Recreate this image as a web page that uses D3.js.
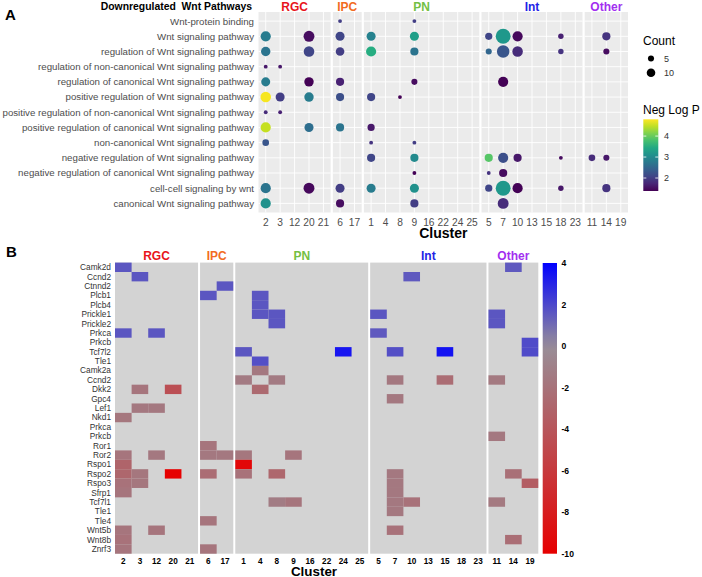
<!DOCTYPE html>
<html lang="en">
<head>
<meta charset="UTF-8">
<title>Downregulated Wnt pathways</title>
<script src="https://cdn.jsdelivr.net/npm/d3@7"></script>
<style>
  body { margin: 0; background: #fff; }
  text { font-family: "Liberation Sans", Arial, Helvetica, sans-serif; }
</style>
</head>
<body>
<svg id="chart" width="702" height="577"></svg>
<script>
// facet groups, shared by both panels
const groups = ["RGC", "IPC", "PN", "Int", "Other"];
const groupClusters = [
  ["2", "3", "12", "20", "21"],
  ["6", "17"],
  ["1", "4", "8", "9", "16", "22", "24", "25"],
  ["5", "7", "10", "13", "15", "18", "23"],
  ["11", "14", "19"]
];
const groupColors = ["#e8141b", "#f26c22", "#74c043", "#2323e6", "#a22ff0"];

// panel A - GO terms, top to bottom
const pathways = [
  "Wnt-protein binding",
  "Wnt signaling pathway",
  "regulation of Wnt signaling pathway",
  "regulation of non-canonical Wnt signaling pathway",
  "regulation of canonical Wnt signaling pathway",
  "positive regulation of Wnt signaling pathway",
  "positive regulation of non-canonical Wnt signaling pathway",
  "positive regulation of canonical Wnt signaling pathway",
  "non-canonical Wnt signaling pathway",
  "negative regulation of Wnt signaling pathway",
  "negative regulation of canonical Wnt signaling pathway",
  "cell-cell signaling by wnt",
  "canonical Wnt signaling pathway"
];
// [pathway row, cluster, count, neg log p]
const dots = [
  [0, "6", 2, 2.0], [0, "9", 2, 2.0],
  [1, "2", 14, 2.8], [1, "20", 16, 1.5], [1, "6", 11, 2.1], [1, "1", 11, 2.9], [1, "9", 11, 3.3],
  [1, "5", 7, 2.1], [1, "7", 30, 3.2], [1, "10", 14, 1.45], [1, "18", 4, 1.7], [1, "14", 9, 1.9],
  [2, "2", 12, 2.7], [2, "20", 15, 2.1], [2, "6", 10, 2.0], [2, "1", 14, 3.5], [2, "9", 9, 2.7],
  [2, "5", 5, 2.5], [2, "7", 21, 2.3], [2, "10", 15, 1.8], [2, "18", 4, 1.9], [2, "14", 5, 1.5],
  [3, "2", 2, 1.6], [3, "3", 2, 1.6],
  [4, "2", 11, 2.8], [4, "20", 12, 1.4], [4, "6", 9, 1.7], [4, "9", 5, 1.5], [4, "7", 14, 1.4],
  [5, "2", 15, 4.75], [5, "3", 11, 2.0], [5, "20", 12, 2.8], [5, "6", 9, 2.2], [5, "1", 9, 2.1], [5, "8", 2, 1.4],
  [6, "2", 2, 1.8], [6, "3", 2, 1.7],
  [7, "2", 14, 4.5], [7, "20", 11, 2.6], [7, "6", 9, 2.7], [7, "1", 7, 1.6],
  [8, "2", 6, 2.3], [8, "1", 2, 1.9], [8, "9", 2, 2.0],
  [9, "1", 9, 2.1], [9, "9", 9, 3.0], [9, "5", 9, 3.9], [9, "7", 14, 2.2], [9, "10", 9, 1.6],
  [9, "18", 2, 1.5], [9, "11", 6, 1.8], [9, "14", 5, 1.6],
  [10, "9", 2, 1.4], [10, "5", 2, 1.9], [10, "7", 9, 1.5],
  [11, "2", 14, 2.7], [11, "20", 16, 1.45], [11, "6", 11, 2.0], [11, "1", 11, 2.8], [11, "9", 11, 3.1],
  [11, "5", 7, 2.1], [11, "7", 30, 3.2], [11, "10", 14, 1.4], [11, "18", 4, 1.6], [11, "14", 9, 1.9],
  [12, "2", 14, 3.1], [12, "6", 9, 1.5], [12, "9", 9, 2.0], [12, "7", 16, 1.8]
];
const countBreaks = [5, 10];
const pBreaks = [2, 3, 4];
const pRange = [1.38, 4.8];

// panel B - genes, top to bottom (some names repeat)
const genes = [
  "Camk2d", "Ccnd2", "Ctnnd2", "Plcb1", "Plcb4", "Prickle1", "Prickle2", "Prkca", "Prkcb", "Tcf7l2", "Tle1",
  "Camk2a", "Ccnd2", "Dkk2", "Gpc4", "Lef1", "Nkd1", "Prkca", "Prkcb", "Ror1", "Ror2", "Rspo1", "Rspo2",
  "Rspo3", "Sfrp1", "Tcf7l1", "Tle1", "Tle4", "Wnt5b", "Wnt8b", "Znrf3"
];
// [gene row, cluster, value]
const cells = [
  [0, "2", 1.6], [0, "14", 1.5],
  [1, "3", 1.6], [1, "10", 1.5],
  [2, "17", 1.6],
  [3, "6", 1.6], [3, "4", 1.6],
  [4, "4", 1.6],
  [5, "4", 1.6], [5, "8", 1.6], [5, "5", 1.6], [5, "11", 1.6],
  [6, "8", 1.6], [6, "11", 1.6],
  [7, "2", 1.6], [7, "12", 1.6], [7, "5", 1.5],
  [8, "19", 1.9],
  [9, "1", 1.6], [9, "24", 3.4], [9, "7", 1.8], [9, "15", 3.5], [9, "19", 1.9],
  [10, "4", 1.8],
  [11, "4", -1.6],
  [12, "1", -1.4], [12, "8", -1.4], [12, "7", -1.6], [12, "15", -2.4], [12, "11", -1.5],
  [13, "3", -1.8], [13, "20", -4.5], [13, "4", -2.6],
  [14, "7", -1.6],
  [15, "3", -1.6], [15, "12", -1.6],
  [16, "2", -1.7],
  [18, "11", -1.6],
  [19, "6", -1.8],
  [20, "2", -1.8], [20, "12", -1.6], [20, "6", -1.6], [20, "17", -1.6], [20, "1", -1.7], [20, "9", -1.8],
  [21, "2", -3.0], [21, "1", -9.5],
  [22, "2", -2.8], [22, "3", -1.7], [22, "20", -10], [22, "6", -2.4], [22, "1", -2.0], [22, "8", -2.8],
  [22, "7", -1.6], [22, "14", -2.2],
  [23, "2", -2.0], [23, "3", -1.7], [23, "7", -1.6], [23, "19", -3.5],
  [24, "2", -1.8], [24, "7", -1.6],
  [25, "8", -1.3], [25, "9", -1.8], [25, "7", -1.6], [25, "10", -2.0], [25, "11", -1.5],
  [26, "7", -1.6],
  [27, "6", -1.8],
  [28, "2", -1.8], [28, "12", -1.8], [28, "7", -2.0],
  [29, "2", -2.0], [29, "14", -2.3],
  [30, "2", -1.8], [30, "6", -1.8]
];
const fillBreaks = [4, 2, 0, -2, -4, -6, -8, -10];
const fillRange = [-10, 4];

const svg = d3.select("#chart");

// one x band scale per facet, laid side by side
function facetLayout(x0, x1, gap) {
  const n = d3.sum(groupClusters, d => d.length);
  const unit = (x1 - x0 - gap * (groups.length - 1)) / n;
  let cur = x0;
  return groups.map((g, i) => {
    const w = groupClusters[i].length * unit;
    const f = {
      name: g, color: groupColors[i], x0: cur, x1: cur + w,
      x: d3.scaleBand().domain(groupClusters[i]).range([cur, cur + w])
    };
    cur += w + gap;
    return f;
  });
}
function facetOf(facets, c) {
  return facets.find(f => f.x.domain().includes(c));
}
function cx(facets, c) {
  const f = facetOf(facets, c);
  return f.x(c) + f.x.bandwidth() / 2;
}

// ---------------- panel A ----------------
const facetsA = facetLayout(258.5, 628, 2.2);
const yA = d3.scalePoint().domain(d3.range(pathways.length)).range([12, 212.5]).padding(0.6);
const color = d3.scaleSequential(d3.interpolateViridis).domain(pRange);
const size = d3.scaleSqrt().domain([0, 30]).range([0, 7.45]);

const gA = svg.append("g");

facetsA.forEach(f => {
  gA.append("rect")
    .attr("x", f.x0).attr("y", 12)
    .attr("width", f.x1 - f.x0).attr("height", 200.5)
    .attr("fill", "#ebebeb");
  gA.selectAll(null).data(pathways).join("line")
    .attr("x1", f.x0).attr("x2", f.x1)
    .attr("y1", (d, i) => yA(i)).attr("y2", (d, i) => yA(i))
    .attr("stroke", "#fff").attr("stroke-width", 0.9);
  gA.selectAll(null).data(f.x.domain()).join("line")
    .attr("x1", d => f.x(d) + f.x.bandwidth() / 2).attr("x2", d => f.x(d) + f.x.bandwidth() / 2)
    .attr("y1", 12).attr("y2", 212.5)
    .attr("stroke", "#fff").attr("stroke-width", 0.9);
  // cluster tick labels
  gA.selectAll(null).data(f.x.domain()).join("text")
    .attr("x", d => f.x(d) + f.x.bandwidth() / 2)
    .attr("y", 225.5)
    .attr("text-anchor", "middle")
    .attr("font-size", 10.2)
    .attr("fill", "#4d4d4d")
    .text(d => d);
  gA.append("text")
    .attr("x", (f.x0 + f.x1) / 2).attr("y", 10.5)
    .attr("text-anchor", "middle")
    .attr("font-size", 12).attr("font-weight", "bold")
    .attr("fill", f.color)
    .text(f.name);
});

gA.selectAll(null).data(dots).join("circle")
  .attr("cx", d => cx(facetsA, d[1]))
  .attr("cy", d => yA(d[0]))
  .attr("r", d => size(d[2]))
  .attr("fill", d => color(d[3]));

gA.selectAll(null).data(pathways).join("text")
  .attr("x", 254)
  .attr("y", (d, i) => yA(i))
  .attr("dy", "0.35em")
  .attr("text-anchor", "end")
  .attr("font-size", 9.7)
  .attr("fill", "#4d4d4d")
  .text(d => d);

gA.append("text")
  .attr("x", 252).attr("y", 10)
  .attr("text-anchor", "end")
  .attr("font-size", 10.4).attr("font-weight", "bold")
  .style("white-space", "pre")
  .text("Downregulated  Wnt Pathways");

gA.append("text")
  .attr("x", (facetsA[0].x0 + facetsA[4].x1) / 2).attr("y", 238)
  .attr("text-anchor", "middle")
  .attr("font-size", 14).attr("font-weight", "bold")
  .text("Cluster");

gA.append("text")
  .attr("x", 5).attr("y", 19.5)
  .attr("font-size", 15).attr("font-weight", "bold")
  .text("A");

// legend: count
const legA = svg.append("g");
legA.append("text").attr("x", 643).attr("y", 45).attr("font-size", 12).text("Count");
legA.selectAll(null).data(countBreaks).join("circle")
  .attr("cx", 651).attr("cy", (d, i) => 58.5 + i * 14.3)
  .attr("r", d => size(d)).attr("fill", "#000");
legA.selectAll(null).data(countBreaks).join("text")
  .attr("x", 664).attr("y", (d, i) => 58.5 + i * 14.3).attr("dy", "0.35em")
  .attr("font-size", 9).attr("fill", "#333")
  .text(d => d);

// legend: neg log p colour bar
legA.append("text").attr("x", 643).attr("y", 114).attr("font-size", 12).text("Neg Log P");
const barA = d3.scaleLinear().domain(pRange).range([191, 119.3]);
const defs = svg.append("defs");
const gradA = defs.append("linearGradient").attr("id", "gradA")
  .attr("x1", 0).attr("y1", 1).attr("x2", 0).attr("y2", 0);
d3.range(0, 1.0001, 0.1).forEach(t => {
  gradA.append("stop").attr("offset", t)
    .attr("stop-color", color(pRange[0] + t * (pRange[1] - pRange[0])));
});
legA.append("rect").attr("x", 643.3).attr("y", 119.3)
  .attr("width", 15).attr("height", 191 - 119.3)
  .attr("fill", "url(#gradA)");
pBreaks.forEach(b => {
  legA.append("line").attr("x1", 643.3).attr("x2", 646.3)
    .attr("y1", barA(b)).attr("y2", barA(b)).attr("stroke", "#fff").attr("stroke-width", 0.8);
  legA.append("line").attr("x1", 655.3).attr("x2", 658.3)
    .attr("y1", barA(b)).attr("y2", barA(b)).attr("stroke", "#fff").attr("stroke-width", 0.8);
  legA.append("text").attr("x", 664).attr("y", barA(b)).attr("dy", "0.35em")
    .attr("font-size", 9).attr("fill", "#333").text(b);
});

// ---------------- panel B ----------------
const facetsB = facetLayout(115, 538.3, 2);
const yB = d3.scaleBand().domain(d3.range(genes.length)).range([262.6, 553.7]);
const fill = d3.scaleLinear().domain([-10, 0, 4]).range(["#e60000", "#988f98", "#0000ff"]);

const gB = svg.append("g");

facetsB.forEach(f => {
  gB.append("rect")
    .attr("x", f.x0).attr("y", 262.6)
    .attr("width", f.x1 - f.x0).attr("height", 553.7 - 262.6)
    .attr("fill", "#d3d3d3");
  gB.selectAll(null).data(f.x.domain()).join("text")
    .attr("x", d => f.x(d) + f.x.bandwidth() / 2)
    .attr("y", 564)
    .attr("text-anchor", "middle")
    .attr("font-size", 8.2).attr("font-weight", "bold")
    .text(d => d);
  gB.append("text")
    .attr("x", (f.x0 + f.x1) / 2).attr("y", 260)
    .attr("text-anchor", "middle")
    .attr("font-size", 12).attr("font-weight", "bold")
    .attr("fill", f.color)
    .text(f.name);
});

gB.selectAll(null).data(cells).join("rect")
  .attr("x", d => facetOf(facetsB, d[1]).x(d[1]))
  .attr("y", d => yB(d[0]))
  .attr("width", d => facetOf(facetsB, d[1]).x.bandwidth())
  .attr("height", yB.bandwidth())
  .attr("fill", d => fill(d[2]));

gB.selectAll(null).data(genes).join("text")
  .attr("x", 111)
  .attr("y", (d, i) => yB(i) + yB.bandwidth() / 2)
  .attr("dy", "0.35em")
  .attr("text-anchor", "end")
  .attr("font-size", 8.3)
  .attr("fill", "#333")
  .text(d => d);

gB.append("text")
  .attr("x", 314).attr("y", 575.5)
  .attr("text-anchor", "middle")
  .attr("font-size", 13.4).attr("font-weight", "bold")
  .text("Cluster");

gB.append("text")
  .attr("x", 6).attr("y", 256.5)
  .attr("font-size", 15).attr("font-weight", "bold")
  .text("B");

// colour bar for panel B
const barB = d3.scaleLinear().domain(fillRange).range([553.7, 263]);
const gradB = defs.append("linearGradient").attr("id", "gradB")
  .attr("x1", 0).attr("y1", 1).attr("x2", 0).attr("y2", 0);
d3.range(0, 1.0001, 0.05).forEach(t => {
  gradB.append("stop").attr("offset", t)
    .attr("stop-color", fill(fillRange[0] + t * (fillRange[1] - fillRange[0])));
});
gB.append("rect").attr("x", 542.7).attr("y", 263)
  .attr("width", 14.3).attr("height", 553.7 - 263)
  .attr("fill", "url(#gradB)");
gB.selectAll(null).data(fillBreaks).join("text")
  .attr("x", 561.5).attr("y", d => barB(d)).attr("dy", "0.35em")
  .attr("font-size", 8.6).attr("font-weight", "bold")
  .text(d => d);
</script>
</body>
</html>
